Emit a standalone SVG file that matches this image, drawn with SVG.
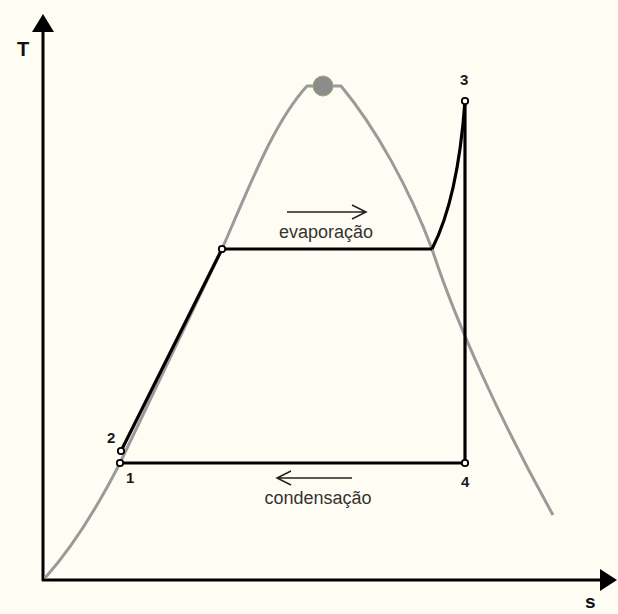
<svg xmlns="http://www.w3.org/2000/svg" width="618" height="614" viewBox="0 0 618 614">
<defs>
<style>
.axis{stroke:#000;stroke-width:3;fill:none}
.dome{stroke:#999b9b;stroke-width:3;fill:none;stroke-linejoin:round}
.cyc{stroke:#000;stroke-width:3.2;fill:none;stroke-linejoin:round}
.pt{fill:#fff;stroke:#000;stroke-width:1.8}
.num{font-family:"Liberation Sans",Arial,sans-serif;font-size:15px;font-weight:bold;fill:#1a1a1a}
.lbl{font-family:"Liberation Sans",Arial,sans-serif;font-size:18px;fill:#333}
.ax{font-family:"Liberation Sans",Arial,sans-serif;font-weight:bold;fill:#111}
.flow{stroke:#222;stroke-width:1.5;fill:none}
</style>
</defs>
<rect width="618" height="614" fill="#fffdf3"/>
<g id="axes">
<line class="axis" x1="43" y1="581" x2="43" y2="30"/>
<polygon points="43,14 32,32 54,32" fill="#000"/>
<line class="axis" x1="42" y1="580" x2="602" y2="580"/>
<polygon points="617,580 600,569 600,591" fill="#000"/>
<text class="ax" x="17" y="56" font-size="20">T</text>
<text class="ax" x="585" y="608" font-size="19">s</text>
</g>
<g id="dome">
<path class="dome" d="M45,578 C70,550 95,512 120,463 L222,249 C250,185 274,122 307,86 L341,86 C376,128 410,190 432,249 C455,320 500,420 553,515"/>
<circle cx="323" cy="86" r="10" fill="#8c8c8c" stroke="#9aa870" stroke-width="1"/>
</g>
<g id="connectors">
<line class="cyc" x1="121" y1="451" x2="222" y2="249"/>
<line class="cyc" x1="222" y1="249" x2="432" y2="249"/>
<path class="cyc" d="M432,249 C448,218 460,170 465,101"/>
<line class="cyc" x1="465" y1="101" x2="465" y2="463"/>
<line class="cyc" x1="465" y1="463" x2="120" y2="463"/>
<path class="flow" d="M287,212 H366 M352,205 L366,212 L352,219"/>
<path class="flow" d="M352,478 H277 M291,471 L277,478 L291,485"/>
</g>
<g id="p1"><circle class="pt" cx="120" cy="463" r="3.2"/><text class="num" x="126" y="483">1</text></g>
<g id="p2"><circle class="pt" cx="121" cy="451" r="3.2"/><text class="num" x="107" y="443">2</text></g>
<g id="p3"><circle class="pt" cx="465" cy="101" r="3.2"/><text class="num" x="460" y="85">3</text></g>
<g id="p4"><circle class="pt" cx="465" cy="463" r="3.2"/><text class="num" x="461" y="487">4</text></g>
<g id="e"><circle class="pt" cx="222" cy="249" r="3.2"/></g>
<text class="lbl" x="326" y="238" text-anchor="middle">evaporação</text>
<text class="lbl" x="318" y="504" text-anchor="middle">condensação</text>
</svg>
